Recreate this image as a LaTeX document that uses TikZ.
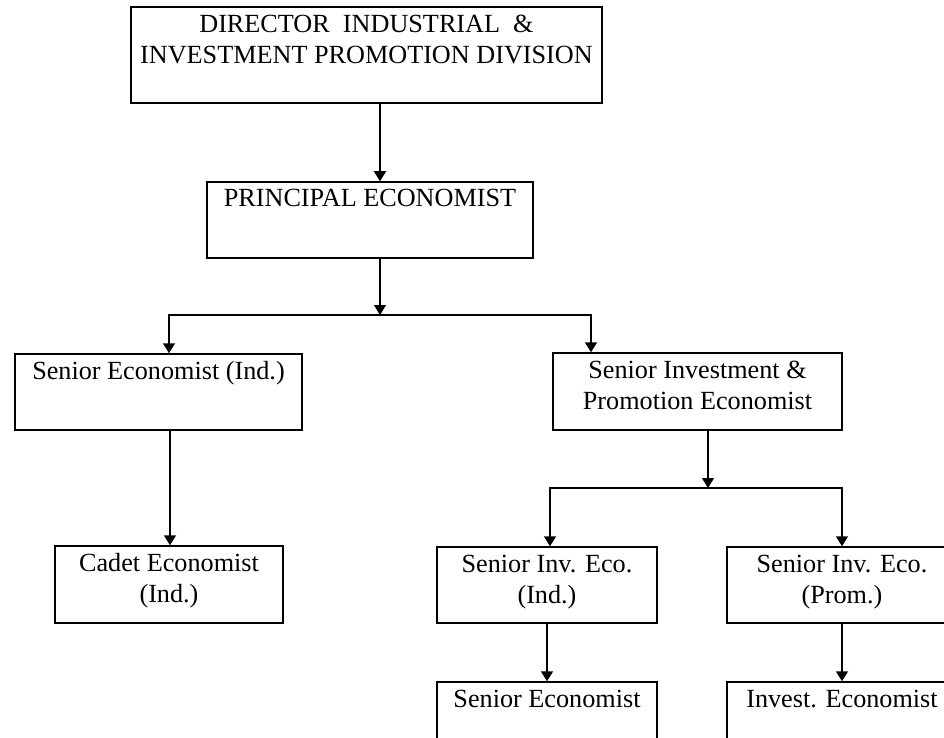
\documentclass[tikz,border=0pt]{standalone}
\usepackage{fontspec}
\setmainfont{Liberation Serif}
\usetikzlibrary{arrows.meta}
\begin{document}
\begin{tikzpicture}[x=1pt,y=-1pt,
  orgbox/.style={draw, line width=1.5pt, inner sep=0pt},
  orgtext/.style={font=\fontsize{26.2}{31}\selectfont, align=center, anchor=north, inner sep=0pt},
  link/.style={line width=1.5pt, -{Triangle[length=10pt,width=12pt]}},
  twolink/.style={line width=1.5pt, {Triangle[length=10pt,width=12pt]}-{Triangle[length=10pt,width=12pt]}}
]
\useasboundingbox (0,0) rectangle (944,738);
\fill[white] (0,0) rectangle (944,738);
\clip (0,0) rectangle (944,738);

% boxes
\node[orgbox, minimum width=471pt, minimum height=96pt] (dir) at (366.5,55) {};
\node[orgbox, minimum width=326pt, minimum height=76pt] (prin) at (370,220) {};
\node[orgbox, minimum width=287pt, minimum height=76pt] (seI) at (158.5,392) {};
\node[orgbox, minimum width=289pt, minimum height=77pt] (siP) at (697.5,391.5) {};
\node[orgbox, minimum width=228pt, minimum height=77pt] (cad) at (169,584.5) {};
\node[orgbox, minimum width=220pt, minimum height=76pt] (sIi) at (547,585) {};
\node[orgbox, minimum width=230pt, minimum height=76pt] (sIp) at (842,585) {};
\node[orgbox, minimum width=220pt, minimum height=76pt] (sE) at (547,720) {};
\node[orgbox, minimum width=230pt, minimum height=76pt] (iE) at (842,720) {};

% texts
\node[orgtext] (dirT) at (dir.north) {\rule{0pt}{26pt}DIRECTOR\ \ INDUSTRIAL\ \ \&\\INVESTMENT PROMOTION DIVISION};
\node[orgtext] (prinT) at (prin.north) {\rule{0pt}{25pt}PRINCIPAL ECONOMIST};
\node[orgtext] (seIT) at (seI.north) {\rule{0pt}{26pt}Senior Economist (Ind.)};
\node[orgtext] (siPT) at (siP.north) {\rule{0pt}{26pt}Senior Investment \&\\Promotion Economist};
\node[orgtext] (cadT) at (cad.north) {\rule{0pt}{26pt}Cadet Economist\\(Ind.)};
\node[orgtext] (sIiT) at (sIi.north) {\rule{0pt}{26pt}Senior Inv. Eco.\\(Ind.)};
\node[orgtext] (sIpT) at (sIp.north) {\rule{0pt}{26pt}Senior Inv. Eco.\\(Prom.)};
\node[orgtext] (sET) at (sE.north) {\rule{0pt}{26pt}Senior Economist};
\node[orgtext] (iET) at (iE.north) {\rule{0pt}{26pt}Invest. Economist};

% connectors
\coordinate (j0) at (380,315);
\coordinate (j0l) at (169,315);
\coordinate (j0r) at (591,315);
\draw[link] (dir.south -| j0) -- (prin.north -| j0);
\draw[link] (prin.south -| j0) -- (j0);
\draw[twolink, line join=miter] (j0l |- seI.north) -- (j0l) -- (j0r) -- (j0r |- siP.north);

\coordinate (c1) at (170,0);
\draw[link] (seI.south -| c1) -- (cad.north -| c1);

\coordinate (j1) at (708,488);
\coordinate (j1l) at (550,488);
\coordinate (j1r) at (842,488);
\draw[link] (siP.south -| j1) -- (j1);
\draw[twolink, line join=miter] (j1l |- sIi.north) -- (j1l) -- (j1r) -- (sIp.north);

\draw[link] (sIi.south) -- (sE.north);
\draw[link] (sIp.south) -- (iE.north);
\end{tikzpicture}
\end{document}
